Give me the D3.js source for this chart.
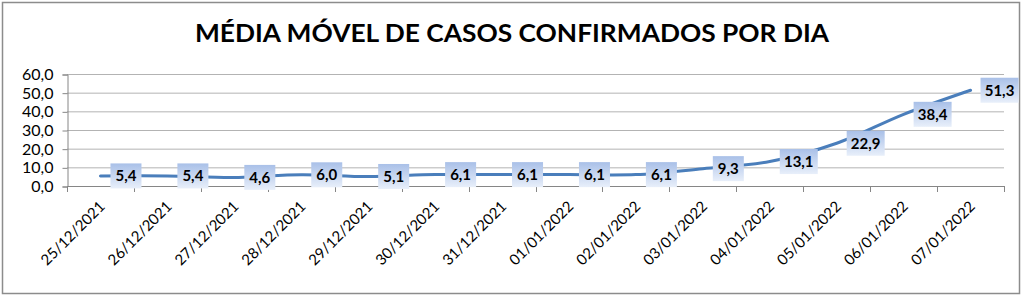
<!DOCTYPE html>
<html>
<head>
<meta charset="utf-8">
<script src="https://cdn.jsdelivr.net/npm/d3@7"></script>
<style>
  body { margin: 0; background: #fff; }
  svg text { font-family: Lato, "Open Sans", sans-serif; }
</style>
</head>
<body>
<script>
"use strict"

const dates = ['25/12/2021', '26/12/2021', '27/12/2021', '28/12/2021', '29/12/2021', '30/12/2021', '31/12/2021',
	'01/01/2022', '02/01/2022', '03/01/2022', '04/01/2022', '05/01/2022', '06/01/2022', '07/01/2022'];
const media = [5.4, 5.4, 4.6, 6.0, 5.1, 6.1, 6.1, 6.1, 6.1, 9.3, 13.1, 22.9, 38.4, 51.3];
const yTicks = [0, 10, 20, 30, 40, 50, 60];
const title = 'MÉDIA MÓVEL DE CASOS CONFIRMADOS POR DIA';

const w = 1024;
const h = 296;
const padL = 67, padR = 1004, padT = 74, padB = 186;

const fmt = v => v.toFixed(1).replace('.', ',');

const svg = d3.select('body')
	.append('svg')
	.attr('width', w)
	.attr('height', h);

const defs = svg.append('defs');
const grad = defs.append('linearGradient')
	.attr('id', 'lbl')
	.attr('x1', 0).attr('y1', 0).attr('x2', 0).attr('y2', 1);
grad.append('stop').attr('offset', '0%').attr('stop-color', '#a9c0e8');
grad.append('stop').attr('offset', '100%').attr('stop-color', '#e8effa');

// outer border
svg.append('rect')
	.attr('x', 2.5).attr('y', 2.5)
	.attr('width', 1017).attr('height', 291)
	.attr('fill', 'none')
	.attr('stroke', '#8c8c8c')
	.attr('stroke-width', 1.5);

svg.append('text')
	.attr('x', 512)
	.attr('y', 42)
	.attr('text-anchor', 'middle')
	.attr('font-size', 24)
	.attr('font-weight', 'bold')
	.attr('fill', '#000')
	.attr('textLength', 634)
	.attr('lengthAdjust', 'spacingAndGlyphs')
	.text(title);

const xScale = d3.scaleBand()
	.domain(dates)
	.range([padL, padR]);

const yScale = d3.scaleLinear()
	.domain([0, 60])
	.range([padB, padT]);

// gridlines
svg.append('g')
	.selectAll('line')
	.data(yTicks.slice(1))
	.enter()
	.append('line')
	.attr('x1', padL).attr('x2', padR)
	.attr('y1', d => yScale(d) + 0.5).attr('y2', d => yScale(d) + 0.5)
	.attr('stroke', '#b3b3b3')
	.attr('stroke-width', 1);

const yAxis = d3.axisLeft(yScale)
	.tickValues(yTicks)
	.tickFormat(fmt)
	.tickSize(5)
	.tickPadding(9);

const gy = svg.append('g')
	.attr('transform', 'translate(' + (padL + 0.5) + ', 0.5)')
	.call(yAxis);
gy.select('.domain').attr('stroke', '#868686');
gy.selectAll('.tick line').attr('stroke', '#868686');
gy.selectAll('.tick text')
	.attr('font-size', 16)
	.attr('fill', '#000')
	.style('font-family', 'Lato, sans-serif');

// x axis with ticks between categories
const xAxis = d3.axisBottom(xScale)
	.tickSize(0)
	.tickFormat('');
const gx = svg.append('g')
	.attr('transform', 'translate(0, ' + (padB + 0.5) + ')')
	.call(xAxis);
gx.select('.domain').attr('stroke', '#868686').attr('d', 'M' + padL + ',0H' + padR);

svg.append('g')
	.selectAll('line')
	.data(dates.concat(['end']))
	.enter()
	.append('line')
	.attr('x1', (d, i) => Math.round(padL + i * xScale.bandwidth()) + 0.5)
	.attr('x2', (d, i) => Math.round(padL + i * xScale.bandwidth()) + 0.5)
	.attr('y1', padB)
	.attr('y2', padB + 6)
	.attr('stroke', '#868686');

svg.append('g')
	.selectAll('text')
	.data(dates)
	.enter()
	.append('text')
	.attr('transform', d => 'translate(' + (xScale(d) + xScale.bandwidth() / 2 - 2) + ', ' + (padB + 14) + ') rotate(-45)')
	.attr('text-anchor', 'end')
	.attr('dy', '0.7em')
	.attr('font-size', 15)
	.attr('fill', '#000')
	.text(d => d);

// line
const line = d3.line()
	.x((d, i) => xScale(dates[i]) + xScale.bandwidth() / 2)
	.y(d => yScale(d))
	.curve(d3.curveCatmullRom.alpha(0.5));

svg.append('path')
	.datum(media)
	.attr('d', line)
	.attr('fill', 'none')
	.attr('stroke', '#4a7ebb')
	.attr('stroke-width', 3)
	.attr('stroke-linecap', 'round');

// data labels
const labels = svg.append('g')
	.selectAll('g')
	.data(media)
	.enter()
	.append('g')
	.attr('transform', (d, i) => 'translate(' + (xScale(dates[i]) + xScale.bandwidth() / 2 + 10) + ', ' + yScale(d) + ')');

labels.append('rect')
	.attr('x', 0)
	.attr('y', -12.5)
	.attr('width', d => d >= 10 ? 38 : 31)
	.attr('height', 25)
	.attr('fill', 'url(#lbl)');

labels.append('text')
	.attr('x', d => d >= 10 ? 19 : 15.5)
	.attr('y', 5.5)
	.attr('text-anchor', 'middle')
	.attr('font-size', 15)
	.attr('font-weight', 'bold')
	.attr('fill', '#000')
	.text(fmt);
</script>
</body>
</html>
